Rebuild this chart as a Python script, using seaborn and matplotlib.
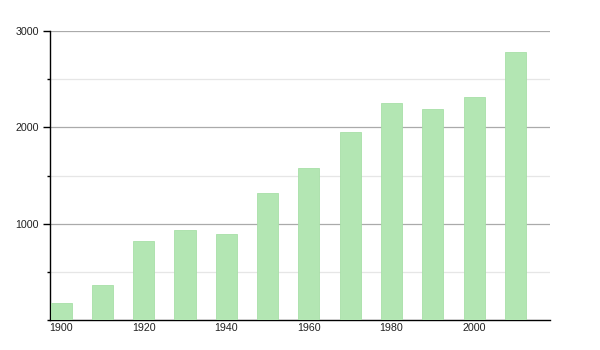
import matplotlib
matplotlib.use("Agg")
import matplotlib.pyplot as plt
import seaborn as sns
import pandas as pd
from matplotlib.ticker import MultipleLocator

years = [1900, 1910, 1920, 1930, 1940, 1950, 1960, 1970, 1980, 1990, 2000, 2010]
population = [175, 365, 823, 937, 896, 1323, 1583, 1948, 2250, 2188, 2312, 2778]
x_tick_labels = ["1900", "1920", "1940", "1960", "1980", "2000"]
y_tick_labels = ["1000", "2000", "3000"]

df = pd.DataFrame({"year": years, "population": population})

sns.set_style("white")
plt.rcParams["font.family"] = ["Liberation Sans", "DejaVu Sans"]

fig = plt.figure(figsize=(6, 3.5), dpi=100)
ax = fig.add_axes([50 / 600, 30 / 350, 500 / 600, 289 / 350])

sns.barplot(data=df, x="year", y="population", native_scale=True, width=0.51,
            color="#b3e6b3", saturation=1, edgecolor="#a8dfa8", linewidth=0.6,
            ax=ax, zorder=3)

ax.set_xlim(1897.3, 2018.4)
ax.set_ylim(0, 3000)

ax.set_xticks([int(t) for t in x_tick_labels])
ax.set_xticklabels(x_tick_labels)
ax.set_yticks([int(t) for t in y_tick_labels])
ax.set_yticklabels(y_tick_labels)
ax.yaxis.set_minor_locator(MultipleLocator(500))

ax.grid(False)
for v in [1000, 2000, 3000]:
    ax.axhline(v, color="#aaaaaa", linewidth=0.9, zorder=1)
for v in [500, 1500, 2500]:
    ax.axhline(v, color="#e6e6e6", linewidth=0.9, zorder=1)

ax.set_xlabel("")
ax.set_ylabel("")
for s in ["top", "right"]:
    ax.spines[s].set_visible(False)
ax.spines["left"].set_color("black")
ax.spines["bottom"].set_color("black")
ax.spines["left"].set_linewidth(1)
ax.spines["bottom"].set_linewidth(1)

ax.tick_params(axis="y", which="major", left=True, length=5, width=1, color="black",
               labelsize=7.7, pad=3, labelcolor="#222222")
ax.tick_params(axis="y", which="minor", left=True, length=2, width=1, color="black")
ax.tick_params(axis="x", which="both", bottom=False, length=0, labelsize=7.7, pad=2,
               labelcolor="#222222")

fig.savefig("out.png", dpi=100, facecolor="white")
